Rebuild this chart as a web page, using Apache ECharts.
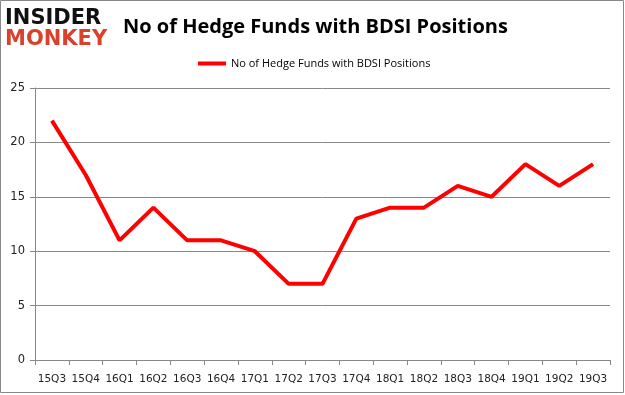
<!DOCTYPE html>
<html><head><meta charset="utf-8">
<script src="https://cdn.jsdelivr.net/npm/echarts@6/dist/echarts.min.js"></script>
<style>html,body{margin:0;padding:0;background:#fff}#c{width:625px;height:395px}</style>
</head><body><div id="c"></div>
<script>
const categories = ['15Q3','15Q4','16Q1','16Q2','16Q3','16Q4','17Q1','17Q2','17Q3','17Q4','18Q1','18Q2','18Q3','18Q4','19Q1','19Q2','19Q3'];
const funds = [22,17,11,14,11,11,10,7,7,13,14,14,16,15,18,16,18];
const seriesName = 'No of Hedge Funds with BDSI Positions';
const titleText = 'No of Hedge Funds with BDSI Positions';

const chart = echarts.init(document.getElementById('c'), null, {renderer:'canvas'});
chart.setOption({
  animation:false,
  backgroundColor:'#fff',
  title:{text:titleText,left:118,top:12,textStyle:{fontFamily:'Open Sans',fontWeight:'bold',fontSize:20,color:'#000'}},
  legend:{top:53,left:193,itemWidth:28,itemHeight:4,icon:'rect',itemGap:4,
    textStyle:{fontFamily:'Open Sans',fontSize:11,color:'#000'},data:[seriesName]},
  graphic:[
    {type:'rect',shape:{x:0.5,y:0.5,width:623,height:392},style:{fill:'none',stroke:'#888',lineWidth:1},silent:true},
    {type:'text',left:5,top:8,style:{text:'INSIDER',font:'bold 21px "DejaVu Sans"',fill:'#111'}},
    {type:'text',left:5,top:29,style:{text:'MONKEY',font:'bold 21px "DejaVu Sans"',fill:'#d9412b'}}
  ],
  grid:{left:35,right:15,top:88,bottom:35,containLabel:false},
  xAxis:{type:'category',data:categories,boundaryGap:true,
    axisLine:{lineStyle:{color:'#888'}},
    axisTick:{show:true,alignWithLabel:false,interval:0,length:5,lineStyle:{color:'#888'}},
    axisLabel:{interval:0,fontFamily:'DejaVu Sans',fontSize:10.5,color:'#222',margin:14}},
  yAxis:{type:'value',min:0,max:25,interval:5,
    axisLine:{show:true,lineStyle:{color:'#888'}},
    axisTick:{show:true,length:5,lineStyle:{color:'#888'}},
    splitLine:{lineStyle:{color:'#888'}},
    axisLabel:{fontFamily:'DejaVu Sans',fontSize:11.5,color:'#222',margin:10}},
  series:[{name:seriesName,type:'line',data:funds,showSymbol:false,symbol:'none',
    lineStyle:{color:'#ff0000',width:4},itemStyle:{color:'#ff0000'}}]
});
</script></body></html>
